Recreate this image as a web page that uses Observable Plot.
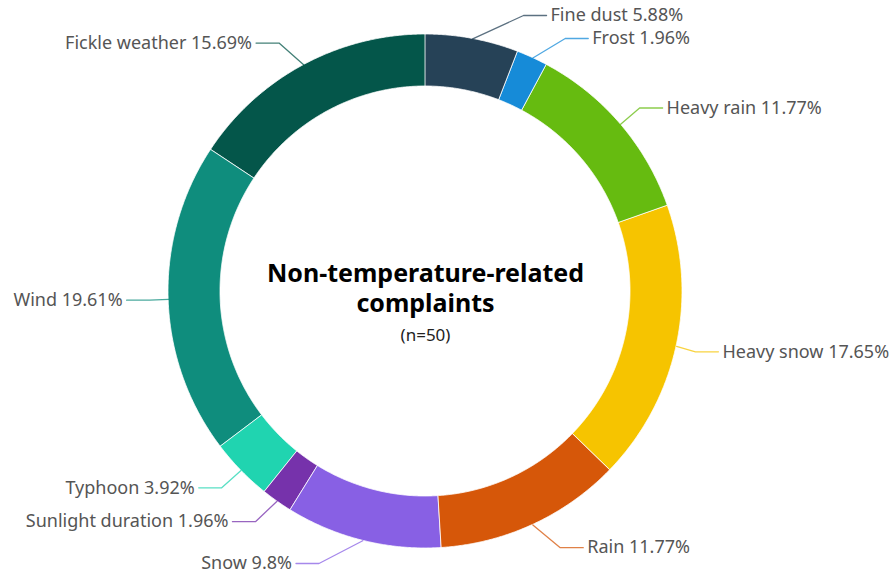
<!DOCTYPE html>
<html><head><meta charset="utf-8">
<script src="https://cdn.jsdelivr.net/npm/d3@7"></script>
<script src="https://cdn.jsdelivr.net/npm/@observablehq/plot@0.6"></script>
<style>body{margin:0;background:#fff}</style>
</head><body><div id="chart"></div>
<script>
const categories = ["Fine dust","Frost","Heavy rain","Heavy snow","Rain","Snow","Sunlight duration","Typhoon","Wind","Fickle weather"];
const shares = [5.88,1.96,11.77,17.65,11.77,9.8,1.96,3.92,19.61,15.69];
const shareLabels = ["5.88%","1.96%","11.77%","17.65%","11.77%","9.8%","1.96%","3.92%","19.61%","15.69%"];
const colors = ["#264257","#168bd8","#66bb10","#f6c400","#d65709","#8860e4","#7632ab","#20d4b0","#0f8d7d","#04564a"];
const centerTitle = ["Non-temperature-related","complaints"];
const centerNote = "(n=50)";

// layout
const W = 895, H = 575, cx = 425, cy = 291, R = 257, r0 = 205;
const rE = R + 25, rT = 303, gap = 23, seg2 = 23, pad = 4;
const yMin = 15 - cy, yMax = 563 - cy;

const arcs = d3.pie().sort(null).value(d => d)(shares);

// ring polygons
const ring = [];
arcs.forEach((a, i) => {
  const n = Math.max(2, Math.ceil((a.endAngle - a.startAngle) / 0.005));
  for (let k = 0; k <= n; k++) {
    const t = a.startAngle + (a.endAngle - a.startAngle) * k / n;
    ring.push({cat: categories[i], x1: r0 * Math.sin(t), y1: -r0 * Math.cos(t), x2: R * Math.sin(t), y2: -R * Math.cos(t)});
  }
});

// label layout
const labels = arcs.map((a, i) => {
  const mid = (a.startAngle + a.endAngle) / 2;
  const side = Math.sin(mid) >= 0 ? 1 : -1;
  return {cat: categories[i], label: `${categories[i]} ${shareLabels[i]}`, mid, side,
          y: Math.min(yMax, Math.max(yMin, -rE * Math.cos(mid)))};
});
for (const s of [1, -1]) {
  const g = labels.filter(d => d.side === s).sort((a, b) => a.y - b.y);
  for (let k = 1; k < g.length; k++) g[k].y = Math.max(g[k].y, g[k-1].y + gap);
  if (g.length) g[g.length-1].y = Math.min(g[g.length-1].y, yMax);
  for (let k = g.length - 2; k >= 0; k--) g[k].y = Math.min(g[k].y, g[k+1].y - gap);
}
const leaders = [];
labels.forEach(d => {
  const sx = R * Math.sin(d.mid), sy = -R * Math.cos(d.mid);
  d.tx = d.side * Math.sqrt(Math.max(0, rT * rT - d.y * d.y));
  const hx = d.tx - d.side * pad;
  let ex = hx - d.side * seg2;
  if (d.side * ex < d.side * sx) ex = sx;
  leaders.push({cat: d.cat, x: sx, y: sy}, {cat: d.cat, x: ex, y: d.y}, {cat: d.cat, x: hx, y: d.y});
});

const labelFont = "'Noto Sans', 'Open Sans', sans-serif";
const chart = Plot.plot({
  width: W, height: H, margin: 0,
  x: {domain: [-cx, W - cx], range: [0, W], axis: null},
  y: {domain: [-cy, H - cy], range: [0, H], axis: null},
  color: {domain: categories, range: colors},
  style: {background: "#fff"},
  marks: [
    Plot.area(ring, {x1: "x1", y1: "y1", x2: "x2", y2: "y2", z: "cat", fill: "cat", stroke: "#fff", strokeWidth: 0.8, curve: "linear"}),
    Plot.line(leaders, {x: "x", y: "y", z: "cat", stroke: "cat", strokeWidth: 1.3, strokeOpacity: 0.75, curve: "linear"}),
    Plot.text(labels.filter(d => d.side > 0), {x: "tx", y: "y", text: "label", textAnchor: "start", fill: "#555", fontSize: 18, fontFamily: labelFont}),
    Plot.text(labels.filter(d => d.side < 0), {x: "tx", y: "y", text: "label", textAnchor: "end", fill: "#555", fontSize: 18, fontFamily: labelFont}),
    Plot.text([centerTitle.join("\n")], {x: () => 0, y: () => 0, text: d => d, dy: -4, lineHeight: 1.2, fontSize: 25, fontWeight: "bold", fill: "#000", fontFamily: "'Noto Sans', sans-serif"}),
    Plot.text([centerNote], {x: () => 0, y: () => 0, text: d => d, dy: 44, fontSize: 17, fill: "#222", fontFamily: "'Noto Sans', sans-serif"})
  ]
});
document.getElementById("chart").append(chart);
</script>
</body></html>
